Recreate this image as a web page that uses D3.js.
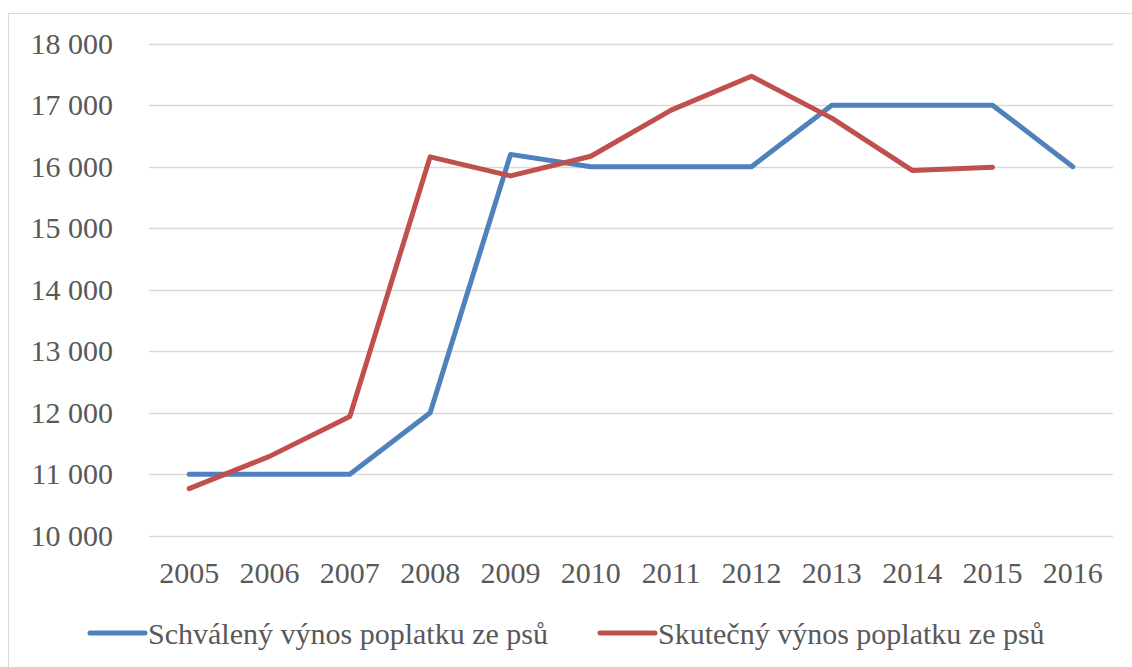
<!DOCTYPE html>
<html><head><meta charset="utf-8"><script src="https://cdn.jsdelivr.net/npm/d3@7"></script></head>
<body style="margin:0">
<svg id="s" width="1132" height="667" style="font-family: Times, 'Liberation Serif', serif"></svg>
<script>
// data
const years = ["2005","2006","2007","2008","2009","2010","2011","2012","2013","2014","2015","2016"];
const approved = [11000, 11000, 11000, 12000, 16200, 16000, 16000, 16000, 17000, 17000, 17000, 16000];
const actual = [10765, 11290, 11940, 16160, 15850, 16170, 16920, 17470, 16790, 15940, 15990, null];
const yTicks = [10000, 11000, 12000, 13000, 14000, 15000, 16000, 17000, 18000];
const seriesNames = ["Schválený výnos poplatku ze psů", "Skutečný výnos poplatku ze psů"];
const colors = ["#4F81BD", "#C0504D"];

const svg = d3.select("#s");

// outer chart border
svg.append("rect")
    .attr("x", 8.5).attr("y", 13.5)
    .attr("width", 1140).attr("height", 680)
    .attr("fill", "none")
    .attr("stroke", "#d9d9d9");

const plotLeft = 149, plotRight = 1113;

const x = d3.scaleBand().domain(years).range([plotLeft, plotRight]);
const y = d3.scaleLinear().domain([10000, 18000]).range([535.7, 43.7]);
const fmt = v => d3.format(",")(v).replace(",", " ");
const cx = d => x(d) + x.bandwidth() / 2;

// gridlines
svg.append("g")
    .selectAll("line")
    .data(yTicks)
    .enter()
    .append("line")
    .attr("x1", plotLeft).attr("x2", plotRight)
    .attr("y1", d => Math.round(y(d)) + 0.5)
    .attr("y2", d => Math.round(y(d)) + 0.5)
    .attr("stroke", "#d9d9d9")
    .attr("stroke-width", 1.5);

// y labels
svg.selectAll("text.ylab")
    .data(yTicks)
    .enter()
    .append("text")
    .attr("class", "ylab")
    .attr("x", 113)
    .attr("y", d => y(d) + 10)
    .attr("text-anchor", "end")
    .attr("font-size", 30)
    .attr("fill", "#595959")
    .text(fmt);

// x labels
svg.selectAll("text.xlab")
    .data(years)
    .enter()
    .append("text")
    .attr("class", "xlab")
    .attr("x", cx)
    .attr("y", y(10000) + 47)
    .attr("text-anchor", "middle")
    .attr("font-size", 30)
    .attr("fill", "#595959")
    .text(d => d);

const line = d3.line()
    .defined(d => d.v != null)
    .x(d => cx(d.year))
    .y(d => y(d.v));

[approved, actual].forEach((vals, i) => {
    svg.append("path")
        .datum(years.map((yr, j) => ({ year: yr, v: vals[j] })))
        .attr("d", line)
        .attr("fill", "none")
        .attr("stroke", colors[i])
        .attr("stroke-width", 5)
        .attr("stroke-linejoin", "round")
        .attr("stroke-linecap", "round");
});

// legend
const legendX = [90, 600];
seriesNames.forEach((name, i) => {
    svg.append("line")
        .attr("x1", legendX[i]).attr("x2", legendX[i] + 55)
        .attr("y1", 633).attr("y2", 633)
        .attr("stroke", colors[i])
        .attr("stroke-width", 5)
        .attr("stroke-linecap", "round");
    svg.append("text")
        .attr("x", legendX[i] + 58)
        .attr("y", 644)
        .attr("font-size", 30)
        .attr("fill", "#595959")
        .text(name);
});
</script></body></html>
